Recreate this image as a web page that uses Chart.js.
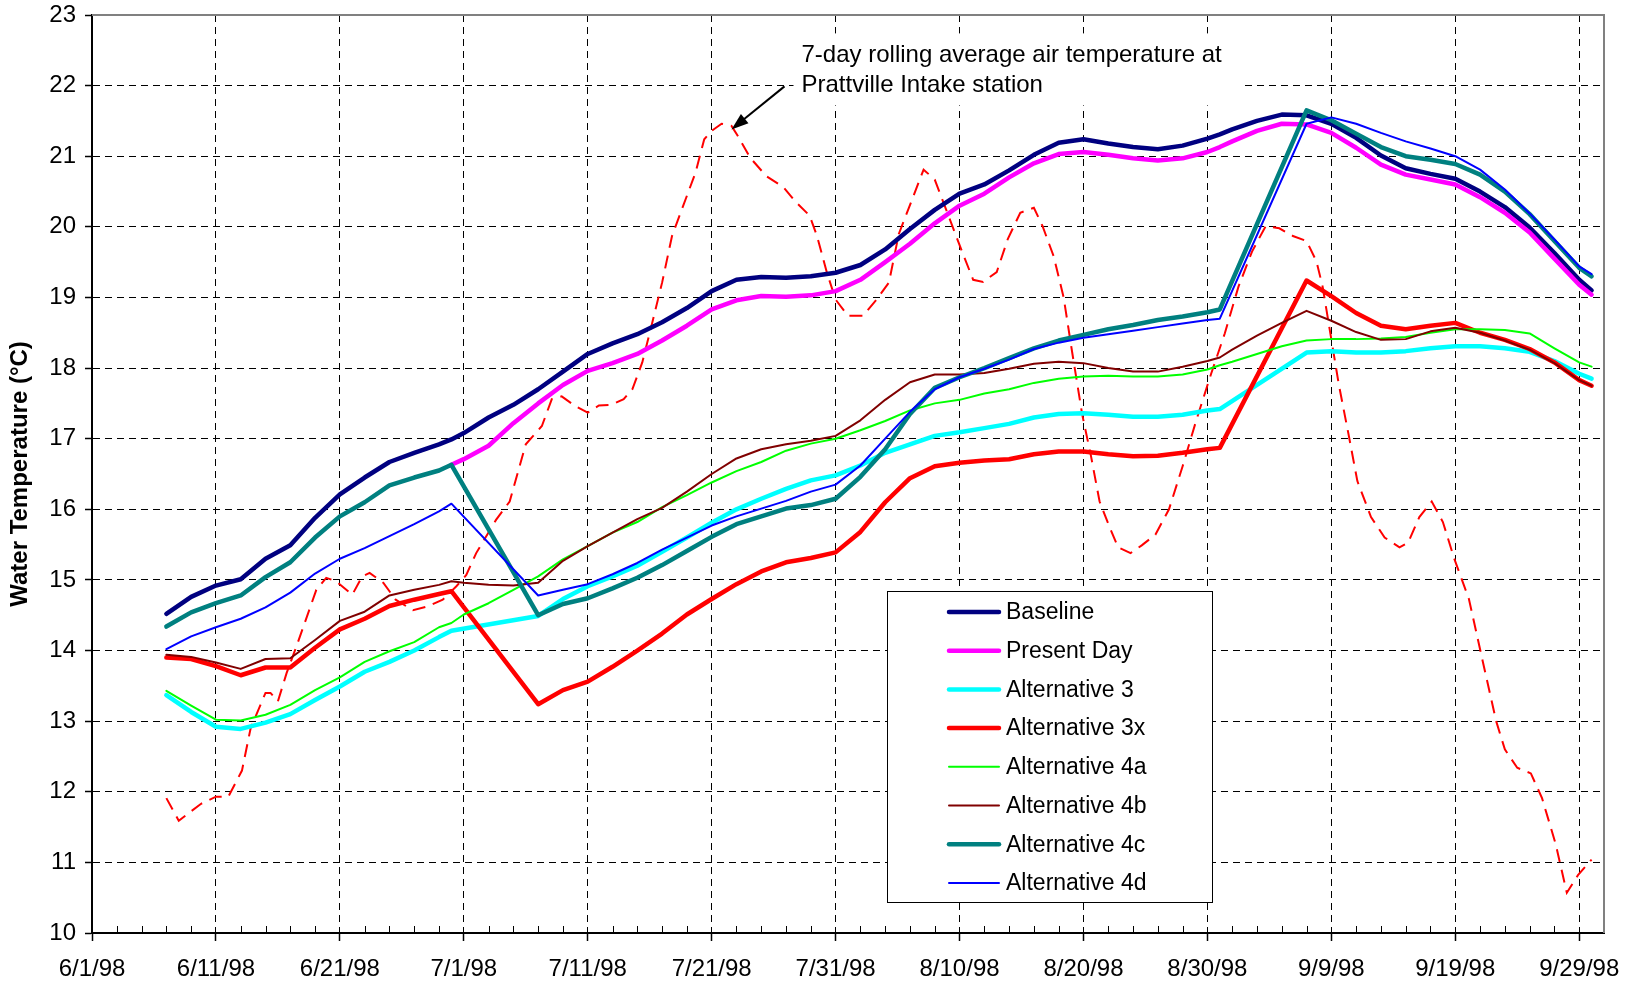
<!DOCTYPE html>
<html>
<head>
<meta charset="utf-8">
<script src="https://cdn.jsdelivr.net/npm/chart.js@4"></script>
<style>
  body { margin: 0; background: #fff; }
  canvas { display: block; }
</style>
</head>
<body>
<canvas id="C" width="1633" height="983"></canvas>
<script>
// x values are days counted from 6/1/98
const days = [6, 8, 10, 12, 14, 16, 18, 20, 22, 24, 26, 28, 29, 30, 32, 34, 36, 38, 40, 42,
  44, 46, 48, 50, 52, 54, 56, 58, 60, 62, 64, 66, 68, 70, 72, 74, 76, 78, 80, 82,
  84, 86, 88, 90, 91, 92, 94, 96, 98, 100, 102, 104, 106, 108, 110, 112, 114, 116, 118, 120, 121];

const baseline = [14.52, 14.76, 14.92, 15.01, 15.30, 15.49, 15.88, 16.21, 16.45, 16.67,
  16.80, 16.92, 16.99, 17.08, 17.30, 17.48, 17.70, 17.95, 18.20, 18.35,
  18.48, 18.65, 18.85, 19.09, 19.25, 19.29, 19.28, 19.30, 19.35, 19.46,
  19.68, 19.97, 20.24, 20.47, 20.60, 20.80, 21.02, 21.19, 21.24, 21.18,
  21.13, 21.10, 21.15, 21.25, 21.31, 21.38, 21.50, 21.59, 21.58, 21.46,
  21.26, 21.01, 20.83, 20.75, 20.68, 20.50, 20.28, 19.99, 19.63, 19.25, 19.10];

const presentDay = [null, null, null, null, null, null, null, null, null, null,
  null, null, 16.63, 16.71, 16.90, 17.22, 17.50, 17.76, 17.96, 18.07,
  18.20, 18.39, 18.60, 18.83, 18.96, 19.02, 19.01, 19.03, 19.09, 19.25,
  19.50, 19.76, 20.05, 20.30, 20.47, 20.70, 20.90, 21.03, 21.06, 21.02,
  20.97, 20.94, 20.97, 21.06, 21.13, 21.21, 21.36, 21.46, 21.45, 21.33,
  21.12, 20.88, 20.74, 20.67, 20.60, 20.42, 20.20, 19.92, 19.55, 19.18, 19.04];

const alt3 = [13.37, 13.13, 12.92, 12.89, 12.98, 13.10, 13.30, 13.49, 13.70, 13.84,
  14.00, 14.19, 14.28, null, null, null, 14.49, 14.73, 14.91, 15.05,
  15.20, 15.40, 15.60, 15.81, 16.00, 16.15, 16.29, 16.41, 16.48, 16.62,
  16.80, 16.92, 17.04, 17.09, 17.15, 17.21, 17.30, 17.35, 17.36, 17.34,
  17.31, 17.31, 17.34, 17.40, 17.42, null, null, null, 18.22, 18.24,
  18.22, 18.22, 18.24, 18.28, 18.31, 18.31, 18.28, 18.23, 18.10, 17.92, 17.85];

const alt3x = [13.90, 13.88, 13.78, 13.65, 13.76, 13.76, 14.04, 14.30, 14.45, 14.63,
  14.72, 14.80, 14.84, null, null, null, 13.24, 13.44, 13.56, 13.77,
  14.00, 14.24, 14.51, 14.73, 14.94, 15.12, 15.25, 15.31, 15.39, 15.68,
  16.10, 16.44, 16.61, 16.66, 16.69, 16.71, 16.78, 16.82, 16.82, 16.78,
  16.75, 16.76, 16.80, 16.85, 16.87, null, null, null, 19.24, 19.02,
  18.78, 18.60, 18.55, 18.60, 18.64, 18.50, 18.40, 18.27, 18.08, 17.83, 17.75];

const alt4a = [13.43, 13.22, 13.02, 13.01, 13.09, 13.23, 13.44, 13.62, 13.84, 13.99,
  14.12, 14.33, 14.39, 14.51, 14.67, 14.86, 15.05, 15.29, 15.48, 15.67,
  15.82, 16.03, 16.20, 16.38, 16.54, 16.67, 16.83, 16.93, 17.00, 17.12,
  17.25, 17.40, 17.50, 17.55, 17.64, 17.70, 17.79, 17.85, 17.88, 17.89,
  17.88, 17.88, 17.91, 17.98, 18.04, 18.09, 18.20, 18.31, 18.39, 18.41,
  18.41, 18.42, 18.44, 18.50, 18.55, 18.55, 18.54, 18.49, 18.28, 18.08, 18.02];

const alt4b = [13.94, 13.91, 13.83, 13.74, 13.88, 13.89, 14.15, 14.42, 14.55, 14.78,
  14.86, 14.93, 14.98, 14.96, 14.93, 14.92, 14.96, 15.27, 15.48, 15.67,
  15.86, 16.02, 16.25, 16.50, 16.72, 16.85, 16.92, 16.97, 17.04, 17.26,
  17.55, 17.80, 17.91, 17.91, 17.93, 17.99, 18.06, 18.09, 18.07, 18.00,
  17.95, 17.95, 18.02, 18.10, 18.15, 18.26, 18.46, 18.64, 18.81, 18.67,
  18.51, 18.40, 18.41, 18.52, 18.57, 18.50, 18.39, 18.26, 18.07, 17.83, 17.75];

const alt4c = [14.34, 14.54, 14.67, 14.78, 15.04, 15.25, 15.60, 15.90, 16.10, 16.34,
  16.45, 16.55, 16.63, null, null, null, 14.50, 14.66, 14.74, 14.88,
  15.03, 15.21, 15.41, 15.61, 15.79, 15.90, 16.01, 16.06, 16.15, 16.46,
  16.85, 17.35, 17.72, 17.87, 18.00, 18.14, 18.28, 18.39, 18.47, 18.55,
  18.61, 18.68, 18.73, 18.79, 18.83, null, null, null, 21.65, 21.51,
  21.32, 21.13, 21.00, 20.95, 20.89, 20.74, 20.50, 20.18, 19.80, 19.42, 19.30];

const alt4d = [14.02, 14.20, 14.33, 14.45, 14.61, 14.82, 15.09, 15.30, 15.45, 15.62,
  15.79, 15.97, 16.08, null, null, null, 14.78, 14.86, 14.94, 15.08,
  15.24, 15.43, 15.60, 15.77, 15.90, 16.01, 16.12, 16.25, 16.35, 16.62,
  17.00, 17.38, 17.70, 17.87, 17.99, 18.12, 18.27, 18.36, 18.43, 18.48,
  18.53, 18.58, 18.63, 18.68, 18.70, null, null, null, 21.46, 21.55,
  21.46, 21.33, 21.21, 21.11, 21.00, 20.81, 20.53, 20.19, 19.82, 19.44, 19.33];

// 7-day rolling average air temperature, Prattville Intake
const airDays = [6, 7, 8.8, 10, 11, 12.1, 12.8, 14, 14.4, 15, 15.7, 16.5, 17.3, 18.1, 18.9, 19.7,
  21, 21.8, 22.4, 23.5, 24.5, 25.9, 27, 28.3, 29.4, 30.2, 31, 32.6, 33.7, 35, 36.3, 37.1,
  37.9, 39, 40, 40.9, 41.9, 42.9, 43.6, 44.4, 45.2, 46, 46.8, 47.6, 48.7, 49.4, 50, 50.8,
  51.6, 52.1, 53.1, 54.4, 55.8, 56.8, 57.9, 58.5, 59.3, 60, 61, 62.2, 63.3, 64.3, 65.1,
  67.1, 68, 69.1, 70.2, 71.1, 71.9, 73, 73.9, 74.9, 76, 76.7, 77.6, 78.4, 79.1, 79.9,
  80.6, 81.3, 82.1, 82.8, 83.8, 84.7, 85.8, 86.9, 88, 89.1, 90.3, 91.4, 92.5, 93.6,
  94.7, 95.8, 96.9, 98, 98.8, 99.3, 100.1, 100.6, 101.4, 102.1, 103.2, 104.3, 105.5,
  106.2, 107.1, 108.1, 109, 109.9, 111.1, 112.2, 113.3, 114, 115, 116.1, 117, 118.1,
  119, 119.9, 121];
const airTemp = [11.91, 11.59, 11.83, 11.93, 11.93, 12.30, 12.90, 13.40, 13.40, 13.28, 13.68, 14.06, 14.46, 14.86, 15.03, 14.98,
  14.79, 15.05, 15.10, 14.96, 14.72, 14.57, 14.62, 14.72, 14.91, 15.07, 15.38, 15.85, 16.11, 16.92, 17.18, 17.56,
  17.60, 17.46, 17.37, 17.47, 17.48, 17.56, 17.70, 18.08, 18.64, 19.21, 19.87, 20.25, 20.77, 21.24, 21.36, 21.46,
  21.43, 21.29, 20.98, 20.72, 20.56, 20.35, 20.16, 19.87, 19.35, 18.97, 18.74, 18.74, 18.97, 19.21, 19.90,
  20.81, 20.67, 20.16, 19.65, 19.25, 19.22, 19.36, 19.83, 20.20, 20.27, 20.01, 19.58, 19.00, 18.21, 17.34,
  16.76, 16.11, 15.75, 15.46, 15.38, 15.49, 15.64, 16.00, 16.61, 17.26, 17.92, 18.49, 19.15, 19.65,
  20.01, 19.98, 19.87, 19.80, 19.51, 19.15, 18.30, 17.77, 17.05, 16.40, 15.89, 15.60, 15.46,
  15.53, 15.89, 16.11, 15.82, 15.31, 14.73, 13.86, 13.00, 12.60, 12.34, 12.26, 11.91, 11.26,
  10.57, 10.82, 11.04];

const series = [
  { label: 'Baseline', values: baseline, color: '#000080', width: 4.5 },
  { label: 'Present Day', values: presentDay, color: '#ff00ff', width: 4.5 },
  { label: 'Alternative 3', values: alt3, color: '#00ffff', width: 4.5 },
  { label: 'Alternative 3x', values: alt3x, color: '#ff0000', width: 4.5 },
  { label: 'Alternative 4a', values: alt4a, color: '#00ff00', width: 2 },
  { label: 'Alternative 4b', values: alt4b, color: '#800000', width: 2 },
  { label: 'Alternative 4c', values: alt4c, color: '#008080', width: 4.5 },
  { label: 'Alternative 4d', values: alt4d, color: '#0000ff', width: 2 }
];

const noteLines = ['7-day rolling average air temperature at', 'Prattville Intake station'];
const noteTip = { day: 51.6, temp: 21.38 };

function dateLabel(d) {
  const t = new Date(1998, 5, 1 + d);
  return (t.getMonth() + 1) + '/' + t.getDate() + '/98';
}

Chart.defaults.font.family = "'Liberation Sans', Arial, sans-serif";
Chart.defaults.font.size = 24;
Chart.defaults.color = '#000';

const datasets = series.map((s, i) => ({
  label: s.label,
  data: days.map((d, k) => ({ x: d, y: s.values[k] })),
  borderColor: s.color,
  borderWidth: s.width,
  borderJoinStyle: 'round',
  borderCapStyle: 'round',
  pointRadius: 0,
  tension: 0,
  spanGaps: true,
  fill: false,
  order: series.length - i
}));

datasets.push({
  label: 'Air temperature',
  data: airDays.map((d, k) => ({ x: d, y: airTemp[k] })),
  borderColor: '#ff0000',
  borderWidth: 2,
  borderDash: [13, 8],
  pointRadius: 0,
  tension: 0,
  fill: false,
  order: 99
});

// frame, minor ticks, legend box and the air temperature note
const extras = {
  id: 'extras',
  afterDraw(chart) {
    const { ctx, chartArea: a, scales: { x, y } } = chart;
    ctx.save();

    ctx.strokeStyle = '#808080';
    ctx.lineWidth = 2;
    ctx.beginPath();
    ctx.moveTo(a.left, a.top);
    ctx.lineTo(a.right, a.top);
    ctx.lineTo(a.right, a.bottom);
    ctx.stroke();

    ctx.strokeStyle = '#000';
    ctx.lineWidth = 1;
    ctx.beginPath();
    for (let d = 2; d < 122; d += 2) {
      if (d % 10 === 0) continue;
      const px = Math.round(x.getPixelForValue(d)) + 0.5;
      ctx.moveTo(px, a.bottom);
      ctx.lineTo(px, a.bottom - 7);
    }
    ctx.stroke();

    // legend
    const bx = 887.5, by = 591.5, bw = 325, bh = 311;
    ctx.fillStyle = '#fff';
    ctx.fillRect(bx, by, bw, bh);
    ctx.strokeStyle = '#000';
    ctx.lineWidth = 1;
    ctx.strokeRect(bx, by, bw, bh);
    ctx.font = "23px 'Liberation Sans', Arial, sans-serif";
    ctx.textBaseline = 'middle';
    ctx.textAlign = 'left';
    series.forEach((s, i) => {
      const ly = 612 + i * 38.7;
      ctx.strokeStyle = s.color;
      ctx.lineWidth = s.width;
      ctx.lineCap = 'round';
      ctx.beginPath();
      ctx.moveTo(949, ly);
      ctx.lineTo(999, ly);
      ctx.stroke();
      ctx.fillStyle = '#000';
      ctx.fillText(s.label, 1006, ly + 1);
    });

    // note on a white patch, with an arrow to the air temperature peak
    const tx = x.getPixelForValue(noteTip.day);
    const ty = y.getPixelForValue(noteTip.temp);
    ctx.font = "24px 'Liberation Sans', Arial, sans-serif";
    ctx.textBaseline = 'alphabetic';
    const textX = tx + 70;
    const w = Math.max(...noteLines.map(t => ctx.measureText(t).width));
    ctx.fillStyle = '#fff';
    ctx.fillRect(textX - 8, ty - 96, w + 28, 72);
    ctx.fillStyle = '#000';
    ctx.fillText(noteLines[0], textX, ty - 67);
    ctx.fillText(noteLines[1], textX, ty - 37);

    const sx = tx + 53, sy = ty - 43;
    const ang = Math.atan2(ty - sy, tx - sx);
    ctx.strokeStyle = '#000';
    ctx.lineWidth = 2;
    ctx.lineCap = 'butt';
    ctx.beginPath();
    ctx.moveTo(sx, sy);
    ctx.lineTo(tx - 12 * Math.cos(ang), ty - 12 * Math.sin(ang));
    ctx.stroke();
    ctx.beginPath();
    ctx.moveTo(tx, ty);
    ctx.lineTo(tx - 17 * Math.cos(ang) + 6 * Math.sin(ang), ty - 17 * Math.sin(ang) - 6 * Math.cos(ang));
    ctx.lineTo(tx - 17 * Math.cos(ang) - 6 * Math.sin(ang), ty - 17 * Math.sin(ang) + 6 * Math.cos(ang));
    ctx.closePath();
    ctx.fill();

    ctx.restore();
  }
};

new Chart(document.getElementById('C').getContext('2d'), {
  type: 'line',
  data: { datasets },
  options: {
    responsive: false,
    animation: false,
    devicePixelRatio: 1,
    layout: { padding: { top: 15, right: 29, left: 0, bottom: 0 } },
    plugins: {
      legend: { display: false },
      tooltip: { enabled: false }
    },
    scales: {
      x: {
        type: 'linear',
        min: 0,
        max: 122,
        ticks: {
          stepSize: 10,
          includeBounds: false,
          autoSkip: false,
          maxRotation: 0,
          padding: 14,
          callback: v => dateLabel(v)
        },
        grid: { color: '#000', lineWidth: 1, tickLength: 8, tickColor: '#000', tickWidth: 1.5 },
        border: { color: '#000', width: 2, dash: [7, 5] },
        afterFit: s => { s.height = 50; s.paddingLeft = 0; s.paddingRight = 0; }
      },
      y: {
        min: 10,
        max: 23,
        ticks: { stepSize: 1, padding: 9 },
        grid: { color: '#000', lineWidth: 1, tickLength: 7, tickColor: '#000', tickWidth: 1.5 },
        border: { color: '#000', width: 2, dash: [7, 5] },
        title: {
          display: true,
          text: 'Water Temperature (°C)',
          font: { size: 24, weight: 'bold' },
          padding: { top: 6, bottom: 0 }
        },
        afterFit: s => { s.width = 92; s.paddingTop = 0; s.paddingBottom = 0; }
      }
    }
  },
  plugins: [extras]
});
</script>
</body>
</html>
